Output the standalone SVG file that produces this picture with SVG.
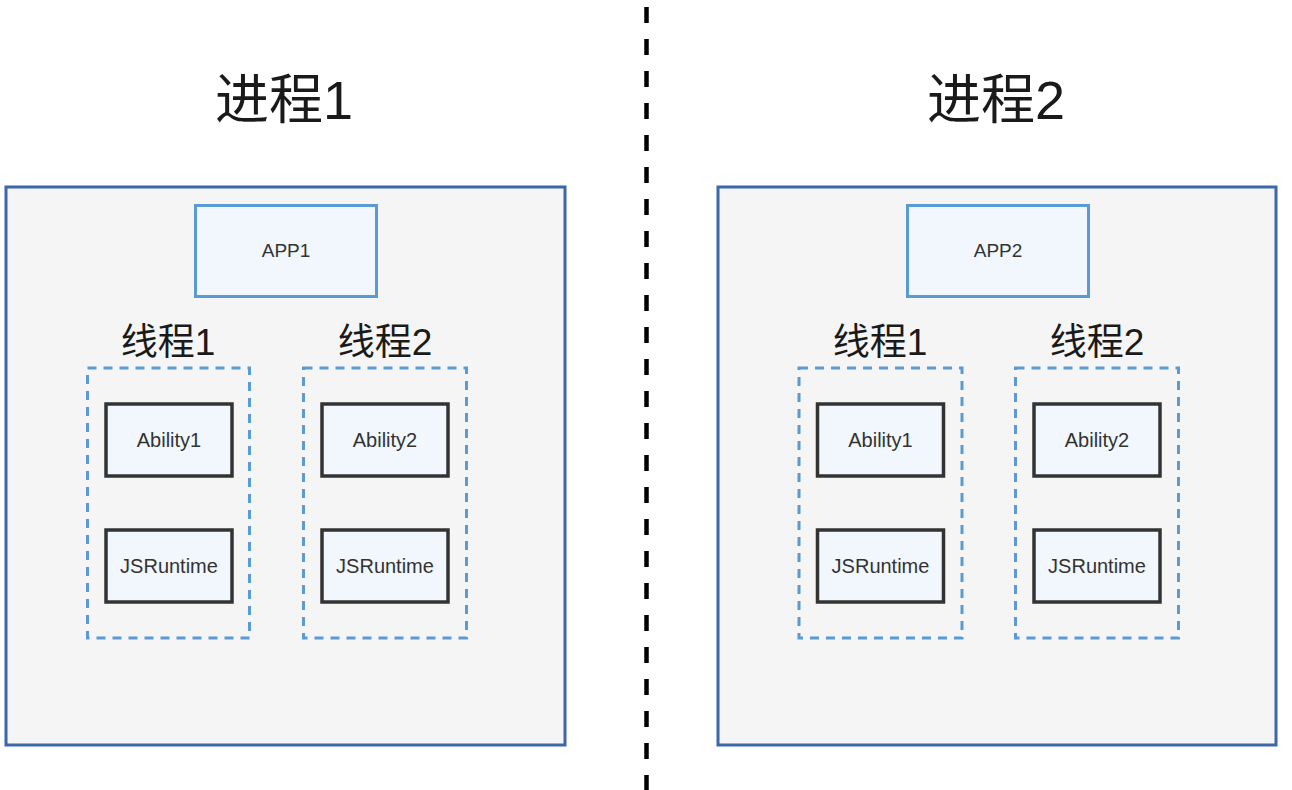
<svg xmlns="http://www.w3.org/2000/svg" width="1292" height="790" viewBox="0 0 1292 790">
<style>
.proc{fill:#f5f5f5;stroke:#3c67a8;stroke-width:3}
.app{fill:#f1f7fd;stroke:#5b9bd5;stroke-width:3}
.thr{fill:none;stroke:#5b9bd5;stroke-width:3;stroke-dasharray:9 7}
.blk{fill:#f1f7fd;stroke:#333;stroke-width:3.5}
.t{font-family:"Liberation Sans",Arial,sans-serif;fill:#333;text-anchor:middle}
.cjk{font-family:"Liberation Sans","Noto Sans CJK SC",sans-serif;fill:#1a1a1a;text-anchor:middle}
</style>
<rect width="1292" height="790" fill="#fff"/>
<g id="connectors">
<line x1="646.5" y1="7" x2="646.5" y2="790" stroke="#000" stroke-width="4.5" stroke-dasharray="16 16"/>
</g>
<g id="title1"><text class="cjk" x="284" y="119" font-size="54">进程1</text></g>
<g id="title2"><text class="cjk" x="996" y="119" font-size="54">进程2</text></g>
<g id="process1"><rect class="proc" x="6" y="187" width="559" height="558"/></g>
<g id="process2"><rect class="proc" x="718" y="187" width="558" height="558"/></g>
<g id="app1"><rect class="app" x="195.5" y="205.5" width="181" height="91"/><text class="t" x="286" y="257" font-size="19">APP1</text></g>
<g id="app2"><rect class="app" x="907.5" y="205.5" width="181" height="91"/><text class="t" x="998" y="257" font-size="19">APP2</text></g>
<g id="p1-thread1"><text class="cjk" x="168" y="355" font-size="37">线程1</text><rect class="thr" x="87.5" y="368" width="162" height="270"/></g>
<g id="p1-thread2"><text class="cjk" x="385" y="355" font-size="37">线程2</text><rect class="thr" x="303.5" y="368" width="163" height="270"/></g>
<g id="p2-thread1"><text class="cjk" x="880" y="355" font-size="37">线程1</text><rect class="thr" x="799" y="368" width="163" height="270"/></g>
<g id="p2-thread2"><text class="cjk" x="1097" y="355" font-size="37">线程2</text><rect class="thr" x="1015.5" y="368" width="163" height="270"/></g>
<g id="p1-ability1"><rect class="blk" x="106" y="404" width="126" height="72"/><text class="t" x="169" y="447" font-size="20">Ability1</text></g>
<g id="p1-jsruntime1"><rect class="blk" x="106" y="530" width="126" height="72"/><text class="t" x="169" y="573" font-size="20">JSRuntime</text></g>
<g id="p1-ability2"><rect class="blk" x="322" y="404" width="126" height="72"/><text class="t" x="385" y="447" font-size="20">Ability2</text></g>
<g id="p1-jsruntime2"><rect class="blk" x="322" y="530" width="126" height="72"/><text class="t" x="385" y="573" font-size="20">JSRuntime</text></g>
<g id="p2-ability1"><rect class="blk" x="817.5" y="404" width="126" height="72"/><text class="t" x="880.5" y="447" font-size="20">Ability1</text></g>
<g id="p2-jsruntime1"><rect class="blk" x="817.5" y="530" width="126" height="72"/><text class="t" x="880.5" y="573" font-size="20">JSRuntime</text></g>
<g id="p2-ability2"><rect class="blk" x="1034" y="404" width="126" height="72"/><text class="t" x="1097" y="447" font-size="20">Ability2</text></g>
<g id="p2-jsruntime2"><rect class="blk" x="1034" y="530" width="126" height="72"/><text class="t" x="1097" y="573" font-size="20">JSRuntime</text></g>
</svg>
